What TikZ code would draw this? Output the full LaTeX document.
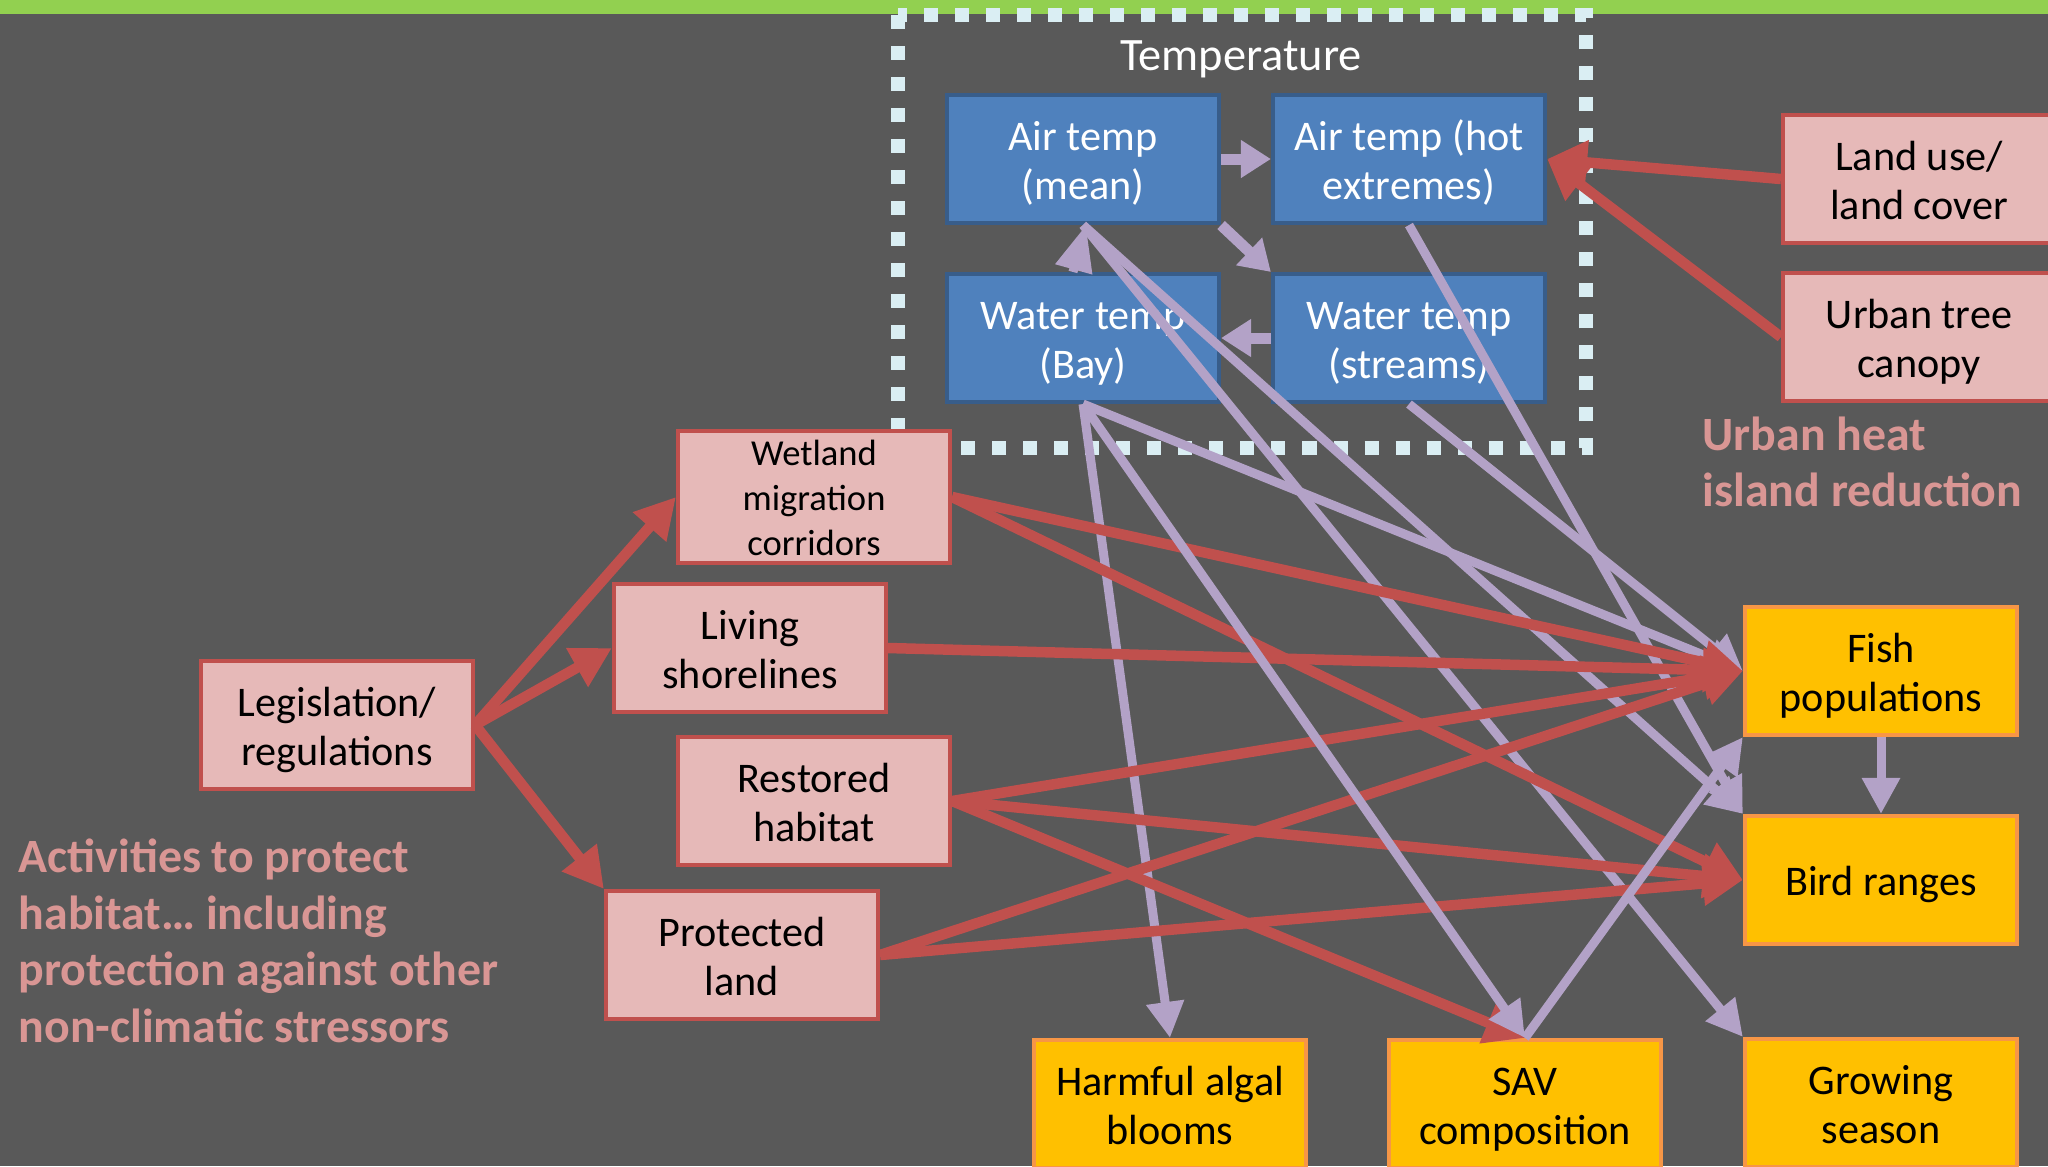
\documentclass[tikz,border=0pt]{standalone}
\usepackage{fontspec}
\setmainfont{Carlito}
\usetikzlibrary{arrows.meta}
\definecolor{bgc}{HTML}{595959}
\definecolor{greenc}{HTML}{92D050}
\definecolor{dashc}{HTML}{DAEEF3}
\definecolor{bfill}{HTML}{4F81BD}
\definecolor{bdraw}{HTML}{385D8A}
\definecolor{pfill}{HTML}{E6B9B8}
\definecolor{pdraw}{HTML}{C0504D}
\definecolor{yfill}{HTML}{FFC000}
\definecolor{ydraw}{HTML}{F79646}
\definecolor{redc}{HTML}{C0504D}
\definecolor{purc}{HTML}{B3A2C7}
\definecolor{salmon}{HTML}{D99694}
\newcommand{\sr}{\rule[-0.2em]{0pt}{1.15em}}
\begin{document}
\begin{tikzpicture}[x=0.01cm,y=-0.01cm,
  box/.style={draw, line width=0.04cm, minimum width=2.72cm, minimum height=1.28cm, inner sep=0pt, align=center, font=\fontsize{12}{14.1}\selectfont},
  bluebox/.style={box, fill=bfill, draw=bdraw, text=white},
  pinkbox/.style={box, fill=pfill, draw=pdraw, text=black},
  yelbox/.style={box, fill=yfill, draw=ydraw, text=black},
  redarr/.style={draw=redc, line width=0.105cm, -{Triangle[length=0.40cm,width=0.42cm]}},
  purarr/.style={draw=purc, line width=0.09cm, -{Triangle[length=0.36cm,width=0.36cm]}},
  shortarr/.style={draw=purc, line width=0.11cm, -{Triangle[length=0.30cm,width=0.36cm]}},
  lbl/.style={text=salmon, font=\bfseries\fontsize{13.6}{16.1}\selectfont, align=left, inner sep=0pt},
]
\useasboundingbox (0,0) rectangle (2048,1166);
\clip (0,0) rectangle (2048,1166);
\fill[bgc] (0,0) rectangle (2048,1166);
\fill[greenc] (0,0) rectangle (2048,14);
% temperature group
\draw[dashc, line width=0.14cm, dash pattern=on 0.14cm off 0.17cm] (898,15) rectangle (1586,448);
\node[text=white, font=\fontsize{13.2}{16}\selectfont, inner sep=0pt] (templbl) at (1241,59) {Temperature};
\node[bluebox] (mean) at (1083,159) {\sr Air temp\\\sr (mean)};
\node[bluebox] (hot) at (1409,159) {\sr Air temp (hot\\\sr extremes)};
\node[bluebox] (bay) at (1083,338) {\sr Water temp\\\sr (Bay)};
\node[bluebox] (streams) at (1409,338) {\sr Water temp\\\sr (streams)};
% pink boxes
\node[pinkbox] (landuse) at (1919,179) {\sr Land use/\\\sr land cover};
\node[pinkbox] (urban) at (1919,337) {\sr Urban tree\\\sr canopy};
\node[pinkbox, font=\fontsize{10.4}{12.8}\selectfont] (wetland) at (814,497) {\sr Wetland\\\sr migration\\\sr corridors};
\node[pinkbox] (living) at (750,648) {\sr Living\\\sr shorelines};
\node[pinkbox] (legis) at (337,725) {\sr Legislation/\\\sr regulations};
\node[pinkbox] (restored) at (814,801) {\sr Restored\\\sr habitat};
\node[pinkbox] (protected) at (742,955) {\sr Protected\\\sr land};
% yellow boxes
\node[yelbox] (fish) at (1881,671) {\sr Fish\\\sr populations};
\node[yelbox] (bird) at (1881,880) {\sr Bird ranges};
\node[yelbox] (hab) at (1170,1104) {\sr Harmful algal\\\sr blooms};
\node[yelbox] (sav) at (1525,1104) {\sr SAV\\\sr composition};
\node[yelbox] (growing) at (1881,1103) {\sr Growing\\\sr season};
% labels
\node[lbl, anchor=west] (uhi) at (1702,462) {Urban heat\\island reduction};
\node[lbl, anchor=west] (act) at (18,941) {Activities to protect\\habitat… including\\protection against other\\non-climatic stressors};
% purple arrows
\draw[shortarr] (mean.east) -- (hot.west);
\draw[shortarr] (mean.south east) -- (streams.north west);
\draw[shortarr] (streams.west) -- (bay.east);
\draw[draw=purc, line width=0.09cm, -{Triangle[length=0.46cm,width=0.36cm]}] ([xshift=-0.10cm]bay.north) -- ([xshift=0.03cm]mean.south);
\draw[purarr] (mean.south) -- (bird.north west);
\draw[purarr] (mean.south) -- (growing.north west);
\draw[purarr] (hot.south) -- (bird.north west);
\draw[purarr] (streams.south) -- (fish.west);
\draw[purarr] (bay.south) -- (hab.north);
\draw[purarr] (bay.south) -- (fish.west);
\draw[purarr] (fish.south) -- (bird.north);
% red arrows
\draw[redarr] (landuse.west) -- (hot.east);
\draw[redarr] (urban.west) -- (hot.east);
\draw[redarr] (legis.east) -- (wetland.west);
\draw[redarr] (legis.east) -- (living.west);
\draw[redarr] (legis.east) -- (protected.north west);
\draw[redarr] (wetland.east) -- (fish.west);
\draw[redarr] (wetland.east) -- (bird.west);
\draw[redarr] (living.east) -- (fish.west);
\draw[redarr] (restored.east) -- (fish.west);
\draw[redarr] (restored.east) -- (bird.west);
\draw[redarr] (restored.east) -- (sav.north);
\draw[redarr] (protected.east) -- (fish.west);
\draw[redarr] (protected.east) -- (bird.west);
% purple arrows over red
\draw[purarr] (bay.south) -- (sav.north);
\draw[purarr] (sav.north) -- (fish.south west);
\end{tikzpicture}
\end{document}
